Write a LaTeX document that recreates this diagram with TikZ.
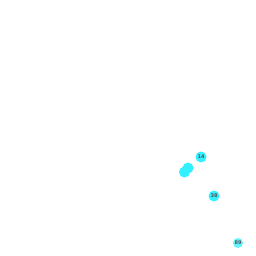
\documentclass[tikz,border=0pt]{standalone}
\usepackage{fontspec}
\setmainfont{DejaVu Sans}
\definecolor{nodecyan}{RGB}{50,240,255}
\definecolor{labelgray}{RGB}{85,85,85}
\begin{document}
\begin{tikzpicture}[x=1pt,y=-1pt,
  dot/.style={circle,fill=nodecyan,draw=none,minimum size=11pt,inner sep=0pt,
    font=\bfseries\fontsize{5}{5}\selectfont,text=labelgray}]
\useasboundingbox (0,0) rectangle (256,256);
\node[dot] (a) at (188,168) {};
\node[dot] (b) at (184.5,172) {};
\node[dot] (n14) at (201,157) {14};
\node[dot] (n38) at (214,196) {38};
\node[dot,minimum size=10pt,fill=nodecyan!75] (n89) at (238,243) {89};
\end{tikzpicture}
\end{document}
